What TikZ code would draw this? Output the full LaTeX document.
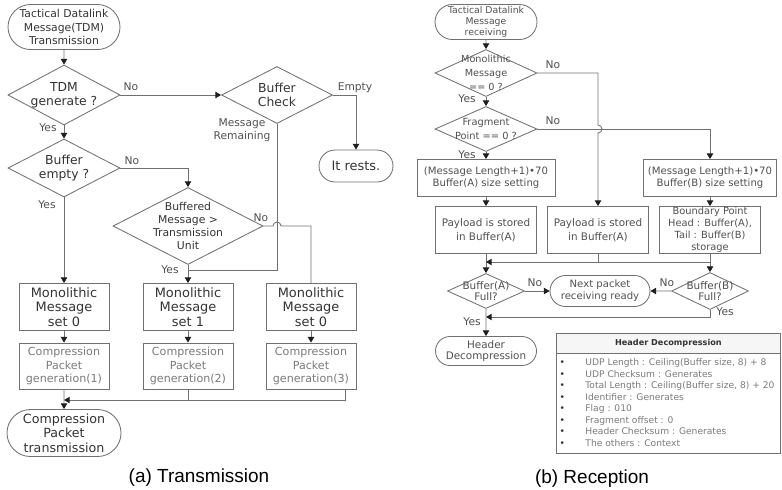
\documentclass[tikz,border=0pt]{standalone}
\usepackage{fontspec}
\setmainfont{DejaVu Sans}
\newfontfamily\capfont{Liberation Sans}
\usepackage{tikz}
\usetikzlibrary{positioning, arrows.meta, shapes.geometric, shapes.misc, calc}
\definecolor{lineGray}{HTML}{707070}
\definecolor{tipGray}{HTML}{1E1E1E}
\definecolor{txtDark}{HTML}{333333}
\definecolor{txtMid}{HTML}{505050}
\definecolor{txtLight}{HTML}{7A7A7A}

\begin{document}
\begin{tikzpicture}[
  line width=0.6pt,
  term/.style={draw=lineGray, rounded rectangle, inner sep=0pt,
               align=center, text=txtDark},
  dec/.style={draw=lineGray, diamond, inner sep=-20pt,
              align=center, text=txtDark},
  proc/.style={draw=lineGray, rectangle, inner sep=0pt,
               align=center, text=txtDark},
  lbl/.style={font=\fontsize{7.6}{9}\selectfont, text=txtMid, inner sep=0pt},
  arr/.style={-{Triangle[width=4.5pt, length=4pt, color=tipGray]}, draw=lineGray},
  ln/.style={draw=lineGray}
]
\useasboundingbox (0,0) rectangle (19.55,-12.225);

% ---- transmission side ----
\node[term, minimum width=2.8cm, minimum height=1.125cm,
      font=\fontsize{7.7}{9.3}\selectfont] (startA) at (1.6,-0.675)
  {Tactical Datalink\\Message(TDM)\\Transmission};
\node[dec, minimum width=2.8cm, minimum height=1.5cm,
      font=\fontsize{8.8}{10}\selectfont] (tdm) at (1.6,-2.375) {TDM\\generate ?};
\node[dec, minimum width=2.775cm, minimum height=1.425cm,
      font=\fontsize{8.8}{10}\selectfont] (check) at (6.925,-2.375) {Buffer\\Check};
\node[term, minimum width=1.85cm, minimum height=0.8cm,
      font=\fontsize{9.2}{10}\selectfont] (rests) at (8.9,-4.15) {It rests.};
\node[dec, minimum width=2.8cm, minimum height=1.45cm,
      font=\fontsize{8.8}{10}\selectfont] (bufE) at (1.6,-4.2) {Buffer\\empty ?};
\node[dec, minimum width=3.75cm, minimum height=1.925cm,
      font=\fontsize{7.7}{9.2}\selectfont] (buffered) at (4.7,-5.65)
  {Buffered\\Message >\\Transmission\\Unit};

\node[proc, minimum width=2.25cm, minimum height=1.175cm,
      font=\fontsize{9.2}{10.3}\selectfont] (mono1) at (1.6,-7.675) {Monolithic\\Message\\set 0};
\node[proc, minimum width=2.25cm, minimum height=1.175cm,
      font=\fontsize{9.2}{10.3}\selectfont] (mono2) at (4.7,-7.675) {Monolithic\\Message\\set 1};
\node[proc, minimum width=2.25cm, minimum height=1.175cm,
      font=\fontsize{9.2}{10.3}\selectfont] (mono3) at (7.775,-7.675) {Monolithic\\Message\\set 0};

\node[proc, minimum width=2.25cm, minimum height=1.15cm, text=txtLight,
      font=\fontsize{7.9}{9.8}\selectfont] (comp1) at (1.6,-9.15) {Compression\\Packet\\generation(1)};
\node[proc, minimum width=2.25cm, minimum height=1.15cm, text=txtLight,
      font=\fontsize{7.9}{9.8}\selectfont] (comp2) at (4.7,-9.15) {Compression\\Packet\\generation(2)};
\node[proc, minimum width=2.25cm, minimum height=1.15cm, text=txtLight,
      font=\fontsize{7.9}{9.8}\selectfont] (comp3) at (7.775,-9.15) {Compression\\Packet\\generation(3)};

\node[term, minimum width=2.85cm, minimum height=1.175cm,
      font=\fontsize{9}{10.3}\selectfont] (endA) at (1.6,-10.825)
  {Compression\\Packet\\transmission};

\node[lbl] (noTdm) at (3.275,-2.175) {No};
\node[lbl] (emptyChk) at (8.875,-2.2) {Empty};
\node[lbl, align=center] (remChk) at (6.05,-3.25) {Message\\Remaining};
\node[lbl] (yesTdm) at (1.2,-3.2) {Yes};
\node[lbl] (noBufE) at (3.3,-4.025) {No};
\node[lbl] (yesBufE) at (1.175,-5.125) {Yes};
\node[lbl] (noBuffered) at (6.525,-5.45) {No};
\node[lbl] (yesBuffered) at (4.25,-6.75) {Yes};

\draw[arr] (startA) -- (tdm);
\draw[arr] (tdm) -- (check);
\draw[arr] (check.east) -| (rests.north);
\draw[arr] (tdm) -- (bufE);
\draw[arr] (bufE.east) -| (buffered.north);
\draw[arr] (bufE) -- (mono1);
\draw[arr] (buffered) -- (mono2);
% leftover messages rejoin the set-1 branch
\coordinate (rem) at (4.7,-6.75);
\draw[ln] (check.south) |- (rem);
% no-branch jumps over that line
\draw[ln] (buffered.east) -- ($(check.south |- buffered.east)+(-0.1,0)$)
  arc[start angle=180, end angle=0, radius=0.1] -| (mono3.north);
\draw[arr] (mono1) -- (comp1);
\draw[arr] (mono2) -- (comp2);
\draw[arr] (mono3) -- (comp3);
\coordinate (mgA) at (1.6,-10.0);
\draw[ln] (comp2.south) -- (comp2.south |- mgA);
\draw[arr] ($(comp3.south)+(0.85,0)$) |- (mgA);
\draw[arr] (comp1) -- (endA);

\node[font=\capfont\fontsize{13.5}{16}\selectfont] (capA) at (4.975,-11.95) {(a) Transmission};

% ---- reception side ----
\node[term, minimum width=2.55cm, minimum height=0.875cm, text=txtMid,
      font=\fontsize{6.6}{7.8}\selectfont] (startB) at (12.15,-0.55)
  {Tactical Datalink\\Message\\receiving};
\node[dec, minimum width=2.55cm, minimum height=1.175cm, text=txtMid,
      font=\fontsize{6.9}{9.8}\selectfont] (monoD) at (12.15,-1.825)
  {Monolithic\\Message\\== 0 ?};
\node[dec, minimum width=2.55cm, minimum height=1.125cm, text=txtMid,
      font=\fontsize{7}{10.2}\selectfont] (fragD) at (12.15,-3.225)
  {Fragment\\Point == 0 ?};
\node[proc, minimum width=3.45cm, minimum height=0.925cm, text=txtMid,
      font=\fontsize{7.2}{8.3}\selectfont] (sizeA) at (12.15,-4.45)
  {(Message Length+1)•70\\Buffer(A) size setting};
\node[proc, minimum width=3.325cm, minimum height=0.925cm, text=txtMid,
      font=\fontsize{7.2}{8.3}\selectfont] (sizeB) at (17.75,-4.45)
  {(Message Length+1)•70\\Buffer(B) size setting};
\node[proc, minimum width=2.525cm, minimum height=1.175cm, text=txtMid,
      font=\fontsize{7.4}{10}\selectfont] (payA) at (12.15,-5.75)
  {Payload is stored\\in Buffer(A)};
\node[proc, minimum width=2.525cm, minimum height=1.175cm, text=txtMid,
      font=\fontsize{7.4}{10}\selectfont] (payB) at (14.95,-5.75)
  {Payload is stored\\in Buffer(A)};
\node[proc, minimum width=2.525cm, minimum height=1.175cm, text=txtMid,
      inner ysep=-4pt, font=\fontsize{7}{8.5}\selectfont] (payC) at (17.75,-5.75)
  {Boundary Point\\Head : Buffer(A),\\Tail : Buffer(B)\\storage};
\node[dec, minimum width=1.925cm, minimum height=0.875cm, text=txtMid,
      font=\fontsize{7.4}{8.3}\selectfont] (fullA) at (12.15,-7.275) {Buffer(A)\\Full?};
\node[term, minimum width=2.5cm, minimum height=0.775cm, text=txtMid,
      font=\fontsize{7.2}{8.3}\selectfont] (next) at (15.0,-7.275)
  {Next packet\\receiving ready};
\node[dec, minimum width=1.925cm, minimum height=0.925cm, text=txtMid,
      font=\fontsize{7.4}{8.3}\selectfont] (fullB) at (17.75,-7.275) {Buffer(B)\\Full?};
\node[term, minimum width=2.525cm, minimum height=0.725cm, text=txtMid,
      font=\fontsize{7.4}{8.3}\selectfont] (headerD) at (12.15,-8.775)
  {Header\\Decompression};

\node[lbl] (noMono) at (13.825,-1.625) {No};
\node[lbl] (yesMono) at (11.675,-2.475) {Yes};
\node[lbl] (noFrag) at (13.825,-3.025) {No};
\node[lbl] (yesFrag) at (11.675,-3.875) {Yes};
\node[lbl] (noFullA) at (13.375,-7.075) {No};
\node[lbl] (noFullB) at (16.675,-7.075) {No};
\node[lbl] (yesFullB) at (18.125,-7.8) {Yes};
\node[lbl] (yesFullA) at (11.8,-8.05) {Yes};

\draw[arr] (startB) -- (monoD);
\draw[arr] (monoD) -- (fragD);
\draw[arr] (fragD) -- (sizeA);
\draw[arr] (fragD.east) -| (sizeB.north);
% monolithic branch hops the fragment line
\draw[arr] (monoD.east) -- (payB.north |- monoD.east)
  -- ($(payB.north |- fragD.east)+(0,0.1)$)
  arc[start angle=90, end angle=-90, radius=0.1] -- (payB.north);
\draw[arr] (sizeA) -- (payA);
\draw[arr] (sizeB) -- (payC);
\draw[arr] (payA) -- (fullA);
\coordinate (mgB) at (12.15,-6.55);
\draw[ln] (payB.south) -- (payB.south |- mgB);
\draw[arr] (payC.south |- mgB) -- (mgB);
\draw[arr] (payC) -- (fullB);
\draw[arr] (fullA) -- (next);
\draw[arr] (fullB) -- (next);
\coordinate (yesB) at (12.15,-7.925);
\draw[arr] (fullB.south) |- (yesB);
\draw[arr] (fullA) -- (headerD);

% header fields
\node[draw=lineGray, minimum width=5.6cm, minimum height=3cm, inner sep=0pt,
      anchor=north west] (hdrBox) at (13.9,-8.325) {};
\node[draw=lineGray, fill=gray!7, minimum width=5.6cm, minimum height=0.5cm,
      inner sep=0pt, anchor=north west, text=txtDark,
      font=\bfseries\fontsize{5.8}{7}\selectfont] (hdrTitle) at (hdrBox.north west)
  {Header Decompression};
\node[anchor=north west, inner sep=0pt, text=txtLight,
      font=\fontsize{6.5}{8.2}\selectfont] (hdrList) at (13.98,-8.93)
  {\begin{tabular}{@{}p{0.645cm}@{}l@{}}
   \textcolor{txtDark}{•} & UDP Length : Ceiling(Buffer size, 8) + 8\\
   \textcolor{txtDark}{•} & UDP Checksum : Generates\\
   \textcolor{txtDark}{•} & Total Length : Ceiling(Buffer size, 8) + 20\\
   \textcolor{txtDark}{•} & Identifier : Generates\\
   \textcolor{txtDark}{•} & Flag : 010\\
   \textcolor{txtDark}{•} & Fragment offset : 0\\
   \textcolor{txtDark}{•} & Header Checksum : Generates\\
   \textcolor{txtDark}{•} & The others : Context
   \end{tabular}};

\node[font=\capfont\fontsize{13.5}{16}\selectfont] (capB) at (14.8,-11.975) {(b) Reception};
\end{tikzpicture}
\end{document}
